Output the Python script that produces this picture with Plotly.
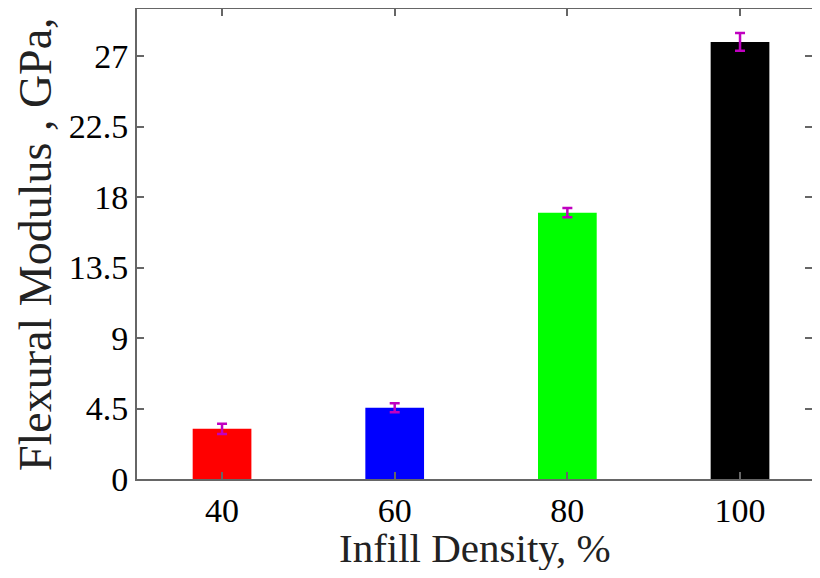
import plotly.graph_objects as go

infill = [40, 60, 80, 100]
modulus = [3.2, 4.55, 17.0, 27.9]
modulus_err = [0.32, 0.29, 0.29, 0.57]
bar_colors = ["#ff0000", "#0000ff", "#00ff00", "#000000"]
y_ticks = [0, 4.5, 9, 13.5, 18, 22.5, 27]
y_tick_labels = ["0", "4.5", "9", "13.5", "18", "22.5", "27"]

font_family = "Liberation Serif, Times New Roman, serif"

# page body has an 8px margin; size the figure so it fits the 820x578 window
FIG_W, FIG_H = 804, 562
M_L, M_T, M_B, M_R = 129, 1, 91, 0
plot_w = FIG_W - M_L - M_R
plot_h = FIG_H - M_T - M_B

fig = go.Figure()
fig.add_trace(go.Bar(
    x=infill,
    y=modulus,
    width=6.8,
    marker=dict(color=bar_colors, line=dict(width=0)),
    error_y=dict(type="data", array=modulus_err, visible=True,
                 color="#c000c0", thickness=2.5, width=5),
    showlegend=False,
))

axis_common = dict(
    showline=True, linecolor="#666666", linewidth=2,
    ticks="inside", ticklen=7, tickwidth=1.5, tickcolor="#666666",
    showgrid=False, zeroline=False, automargin=False,
    tickfont=dict(family=font_family, size=34, color="black"),
)

fig.update_xaxes(
    **axis_common,
    range=[30.15, 30.15 + plot_w / 8.633],
    tickvals=infill,
    ticktext=[str(v) for v in infill],
    mirror="allticks",
)
fig.update_yaxes(
    **axis_common,
    range=[0, 30],
    tickvals=y_ticks,
    ticktext=y_tick_labels,
    mirror="ticks",
)

fig.add_annotation(
    text="Infill Density, %", xref="paper", yref="paper",
    x=0.5, y=-(540 - (FIG_H - M_B)) / plot_h, xanchor="center", yanchor="middle",
    showarrow=False, font=dict(family=font_family, size=41, color="#222222"),
)
fig.add_annotation(
    text="Flexural Modulus , GPa,", xref="paper", yref="paper",
    x=(27 - M_L) / plot_w, y=0.5, xanchor="center", yanchor="middle",
    textangle=-90, showarrow=False,
    font=dict(family=font_family, size=46, color="#222222"),
)

fig.update_layout(
    width=FIG_W, height=FIG_H,
    margin=dict(l=M_L, r=M_R, t=M_T, b=M_B),
    plot_bgcolor="white", paper_bgcolor="white",
)

fig.write_html("out.html")
